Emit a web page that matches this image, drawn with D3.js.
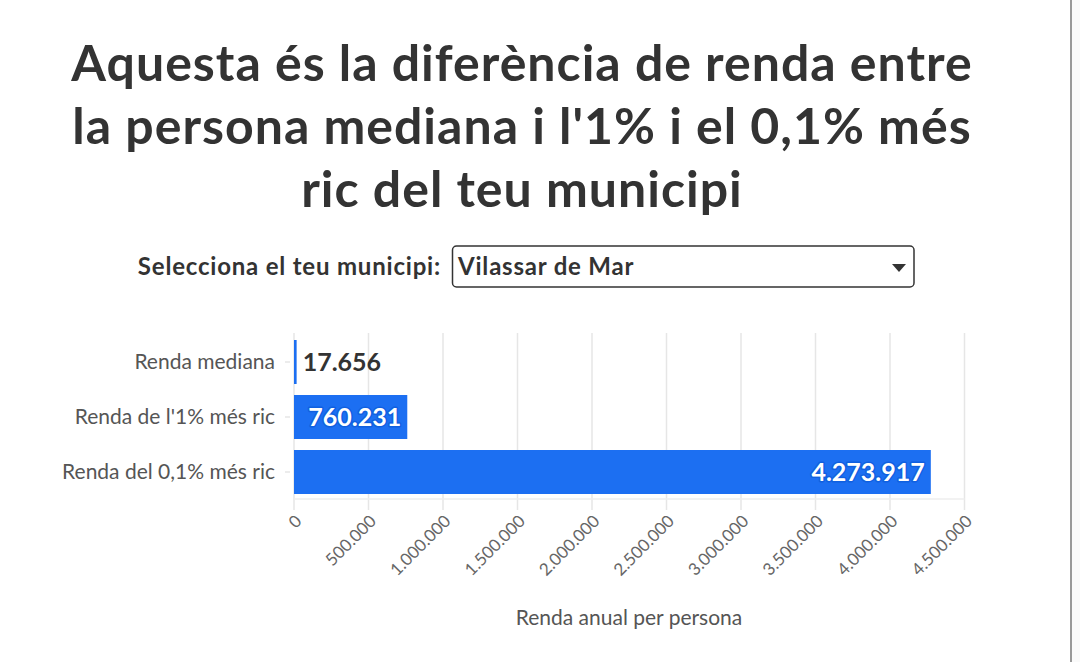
<!DOCTYPE html>
<html>
<head>
<meta charset="utf-8">
<script src="https://cdn.jsdelivr.net/npm/d3@7"></script>
<style>
  html, body { margin: 0; padding: 0; background: #ffffff; }
  svg { display: block; font-family: Lato, "Noto Sans", sans-serif; }
</style>
</head>
<body>
<svg id="chart" width="1080" height="662"></svg>
<script>
// ---- data ----
const titleLines = ["Aquesta és la diferència de renda entre", "la persona mediana i l'1% i el 0,1% més", "ric del teu municipi"];
const selectLabel = "Selecciona el teu municipi:";
const selectedMunicipi = "Vilassar de Mar";
const categories = ["Renda mediana", "Renda de l'1% més ric", "Renda del 0,1% més ric"];
const values = [17656, 760231, 4273917];
const xTicks = [0, 500000, 1000000, 1500000, 2000000, 2500000, 3000000, 3500000, 4000000, 4500000];
const xAxisTitle = "Renda anual per persona";

const fmt = d3.formatLocale({decimal: ",", thousands: ".", grouping: [3], currency: ["", "€"]}).format(",d");

const svg = d3.select("#chart");
const W = 1080, H = 662;

// right edge frame
svg.append("rect").attr("x", 1071).attr("y", 0).attr("width", 9).attr("height", H).attr("fill", "#fafafa");
svg.append("line").attr("x1", 1071).attr("x2", 1071).attr("y1", 0).attr("y2", H)
  .attr("stroke", "#999").attr("stroke-width", 2);

// title
const title = svg.append("text").attr("text-anchor", "middle")
  .attr("font-weight", 700).attr("font-size", 50).attr("letter-spacing", 1).attr("fill", "#333");
titleLines.forEach((t, i) => {
  title.append("tspan").attr("x", 522).attr("y", 81 + i * 63).text(t);
});

// select
svg.append("text").attr("x", 441).attr("y", 275).attr("text-anchor", "end")
  .attr("font-weight", 700).attr("font-size", 24).attr("letter-spacing", 0.8).attr("fill", "#333").text(selectLabel);
svg.append("rect").attr("x", 452.5).attr("y", 246).attr("width", 461.5).attr("height", 41)
  .attr("rx", 4).attr("fill", "#fff").attr("stroke", "#333").attr("stroke-width", 1.5);
svg.append("text").attr("x", 458).attr("y", 275)
  .attr("font-weight", 700).attr("font-size", 24).attr("letter-spacing", 0.8).attr("fill", "#333").text(selectedMunicipi);
svg.append("path").attr("d", "M892,264 L906,264 L899,272 Z").attr("fill", "#333");

// chart
const x = d3.scaleLinear().domain([0, 4500000]).range([294, 964.5]);
const y = d3.scaleBand().domain(categories).range([329, 505]).paddingInner(0.2).paddingOuter(0.2);
const plotTop = 333, plotBottom = 499;

// gridlines
svg.append("g").selectAll("line").data(xTicks).join("line")
  .attr("x1", d => x(d)).attr("x2", d => x(d))
  .attr("y1", plotTop).attr("y2", 510)
  .attr("stroke", "#e6e6e6").attr("stroke-width", 1.5);
svg.append("line").attr("x1", 294).attr("x2", x(4500000)).attr("y1", plotBottom).attr("y2", plotBottom)
  .attr("stroke", "#eeeeee").attr("stroke-width", 1.5);

// x axis labels
const xAxis = d3.axisBottom(x).tickValues(xTicks).tickFormat(fmt).tickSize(0).tickPadding(0);
const gx = svg.append("g").attr("transform", `translate(4,${518})`).call(xAxis);
gx.select(".domain").remove();
gx.selectAll("text")
  .attr("font-family", "Lato, sans-serif").attr("font-size", 17).attr("fill", "#666")
  .attr("text-anchor", "end").attr("dy", "0.35em").attr("y", 0)
  .attr("transform", "rotate(-45)");

// y axis
const yAxis = d3.axisLeft(y).tickSize(6).tickPadding(8);
const gy = svg.append("g").attr("transform", `translate(${289},0)`).call(yAxis);
gy.select(".domain").remove();
gy.selectAll(".tick line").attr("stroke", "#e6e6e6").attr("stroke-width", 1.5).attr("x1", -4).attr("x2", 1);
gy.selectAll("text").attr("font-family", "Lato, sans-serif").attr("font-size", 21).attr("fill", "#555");

// bars
const barColor = "#1c6ff2";
svg.append("g").selectAll("rect").data(values).join("rect")
  .attr("x", x(0)).attr("y", (d, i) => y(categories[i]))
  .attr("width", d => Math.max(2, x(d) - x(0))).attr("height", y.bandwidth())
  .attr("fill", barColor);

// value labels
const lab = svg.append("g").selectAll("text").data(values).join("text")
  .attr("y", (d, i) => y(categories[i]) + y.bandwidth() / 2)
  .attr("dy", "0.36em")
  .attr("font-weight", 700).attr("font-size", 25)
  .text(d => fmt(d));
lab.each(function(d) {
  const t = d3.select(this);
  const inside = x(d) - x(0) > 100;
  if (inside) {
    t.attr("x", x(d) - 6).attr("text-anchor", "end").attr("fill", "#fff")
      .attr("stroke", "#1060e0").attr("stroke-width", 3).attr("paint-order", "stroke")
      .attr("stroke-linejoin", "round");
  } else {
    t.attr("x", x(d) + 6).attr("text-anchor", "start").attr("fill", "#333");
  }
});

// axis title
svg.append("text").attr("x", 629).attr("y", 625).attr("text-anchor", "middle")
  .attr("font-size", 21).attr("fill", "#555").text(xAxisTitle);
</script>
</body>
</html>
